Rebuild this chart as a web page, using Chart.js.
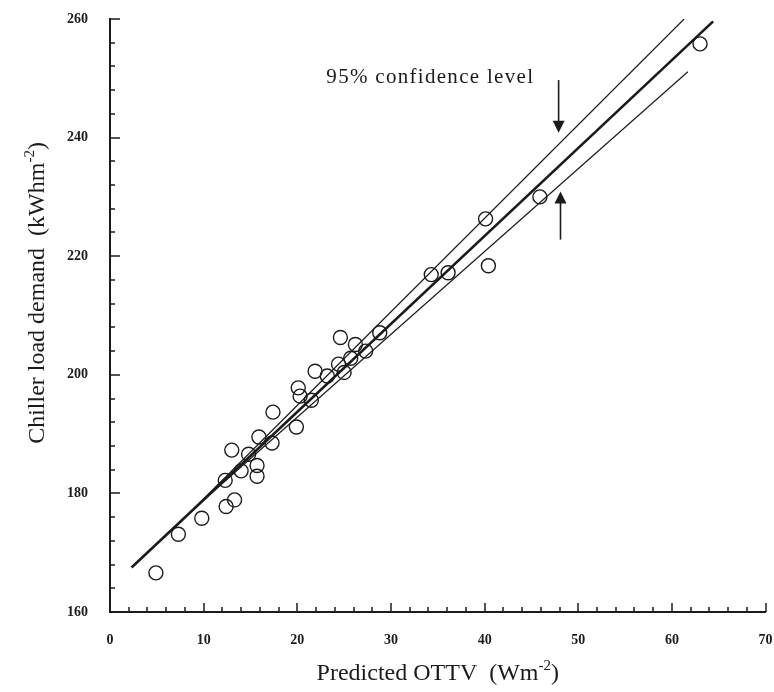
<!DOCTYPE html>
<html>
<head>
<meta charset="utf-8">
<script src="https://cdn.jsdelivr.net/npm/chart.js@4"></script>
<style>
  body { margin: 0; background: #fff; }
  canvas { display: block; }
</style>
</head>
<body>
<canvas id="grafico" width="774" height="692"></canvas>
<script>
// observed points: predicted OTTV (W/m2) vs chiller load demand (kWh/m2)
const ottv = [4.9, 7.3, 9.8, 12.4, 13.3, 12.3, 13.0, 14.0, 14.8, 15.7,
              15.7, 15.9, 17.3, 17.4, 19.9, 20.1, 20.3, 21.5, 21.9, 23.2,
              24.4, 24.6, 25.0, 25.7, 26.2, 27.3, 28.8, 34.3, 36.1, 40.1,
              40.4, 45.9, 63.0];
const demand = [166.6, 173.1, 175.8, 177.8, 178.9, 182.2, 187.3, 183.8, 186.6, 182.9,
                184.7, 189.5, 188.5, 193.7, 191.2, 197.8, 196.4, 195.7, 200.6, 199.8,
                201.8, 206.3, 200.4, 202.8, 205.1, 204.0, 207.1, 216.9, 217.2, 226.3,
                218.4, 230.0, 255.8];

// regression line and 95% confidence lines (end points)
const fitX = [2.3, 64.4];
const fitY = [167.5, 259.6];
const upperX = [9.0, 61.3];
const upperY = [177.5, 260.0];
const lowerX = [9.0, 61.7];
const lowerY = [177.5, 251.1];

// tick labels
const xTicks = [0, 10, 20, 30, 40, 50, 60, 70];
const yTicks = [160, 180, 200, 220, 240, 260];

const nota = { text: '95% confidence level', x: 23.1, y: 249.2 };
const flechas = [
  { x: 47.9, from: 249.7, to: 240.8 },
  { x: 48.1, from: 222.8, to: 230.9 }
];

function pares(xs, ys) {
  return xs.map((x, i) => ({ x: x, y: ys[i] }));
}

const ink = '#1b1b1b';
const serif = '"Liberation Serif", "Times New Roman", serif';

// writes base + superscript + tail centred on (0,0)
function textoSup(ctx, base, sup, tail, size) {
  ctx.font = size + 'px ' + serif;
  const wb = ctx.measureText(base).width;
  const wt = ctx.measureText(tail).width;
  ctx.font = Math.round(size * 0.62) + 'px ' + serif;
  const ws = ctx.measureText(sup).width;
  let x = -(wb + ws + wt) / 2;
  ctx.textBaseline = 'alphabetic';
  ctx.textAlign = 'left';
  ctx.font = size + 'px ' + serif;
  ctx.fillText(base, x, size * 0.33);
  x += wb;
  ctx.font = Math.round(size * 0.62) + 'px ' + serif;
  ctx.fillText(sup, x, size * 0.33 - size * 0.4);
  x += ws;
  ctx.font = size + 'px ' + serif;
  ctx.fillText(tail, x, size * 0.33);
}

const decor = {
  id: 'decor',
  afterDraw(chart) {
    const ctx = chart.ctx;
    const xs = chart.scales.x, ys = chart.scales.y;
    const area = chart.chartArea;
    const x0 = xs.getPixelForValue(0);
    const y0 = ys.getPixelForValue(160);
    ctx.save();

    // inward tick marks
    ctx.strokeStyle = ink;
    ctx.lineWidth = 1.5;
    ctx.beginPath();
    for (let v = 2; v <= 70; v += 2) {
      const px = Math.round(xs.getPixelForValue(v));
      const len = v % 10 === 0 ? 9 : 5;
      ctx.moveTo(px, y0);
      ctx.lineTo(px, y0 - len);
    }
    for (let v = 164; v <= 260; v += 4) {
      const py = Math.round(ys.getPixelForValue(v));
      const len = v % 20 === 0 ? 10 : 5;
      ctx.moveTo(x0, py);
      ctx.lineTo(x0 + len, py);
    }
    ctx.stroke();

    // annotation
    ctx.fillStyle = ink;
    ctx.font = '21px ' + serif;
    ctx.letterSpacing = '1.3px';
    ctx.textAlign = 'left';
    ctx.textBaseline = 'alphabetic';
    ctx.fillText(nota.text, xs.getPixelForValue(nota.x), ys.getPixelForValue(nota.y));
    ctx.letterSpacing = '0px';

    flechas.forEach(f => {
      const px = xs.getPixelForValue(f.x);
      const a = ys.getPixelForValue(f.from);
      const b = ys.getPixelForValue(f.to);
      const dir = b > a ? 1 : -1;
      ctx.lineWidth = 1.6;
      ctx.beginPath();
      ctx.moveTo(px, a);
      ctx.lineTo(px, b - dir * 10);
      ctx.stroke();
      ctx.beginPath();
      ctx.moveTo(px, b);
      ctx.lineTo(px - 6, b - dir * 12);
      ctx.lineTo(px + 6, b - dir * 12);
      ctx.closePath();
      ctx.fill();
    });

    // axis titles
    ctx.save();
    ctx.translate((area.left + area.right) / 2, area.bottom + 60);
    textoSup(ctx, 'Predicted OTTV  (Wm', '-2', ')', 24);
    ctx.restore();

    ctx.save();
    ctx.translate(area.left - 74, area.top + 274);
    ctx.rotate(-Math.PI / 2);
    textoSup(ctx, 'Chiller load demand  (kWhm', '-2', ')', 24);
    ctx.restore();

    ctx.restore();
  }
};

const ctx = document.getElementById('grafico').getContext('2d');
const grafico = new Chart(ctx, {
  type: 'scatter',
  data: {
    datasets: [
      {
        label: 'Observed',
        data: pares(ottv, demand),
        pointStyle: 'circle',
        pointRadius: 7,
        borderColor: ink,
        borderWidth: 1.4,
        backgroundColor: 'rgba(255,255,255,0)'
      },
      {
        label: 'Regression',
        data: pares(fitX, fitY),
        showLine: true,
        pointRadius: 0,
        borderColor: ink,
        borderWidth: 2.6
      },
      {
        label: 'Upper 95%',
        data: pares(upperX, upperY),
        showLine: true,
        pointRadius: 0,
        borderColor: ink,
        borderWidth: 1.2
      },
      {
        label: 'Lower 95%',
        data: pares(lowerX, lowerY),
        showLine: true,
        pointRadius: 0,
        borderColor: ink,
        borderWidth: 1.2
      }
    ]
  },
  options: {
    responsive: false,
    animation: false,
    devicePixelRatio: 1,
    layout: { padding: { left: 0, top: 19, right: 6, bottom: 0 } },
    plugins: {
      legend: { display: false },
      tooltip: { enabled: false }
    },
    scales: {
      x: {
        type: 'linear',
        min: 0,
        max: 70,
        afterBuildTicks: s => { s.ticks = xTicks.map(v => ({ value: v })); },
        afterFit: s => { s.height = 80; s.paddingLeft = 0; s.paddingRight = 0; },
        ticks: {
          color: ink,
          padding: 20,
          maxRotation: 0,
          font: { family: serif, size: 14, weight: 'bold' }
        },
        grid: { display: false, drawTicks: false },
        border: { color: ink, width: 2 }
      },
      y: {
        type: 'linear',
        min: 160,
        max: 260,
        afterBuildTicks: s => { s.ticks = yTicks.map(v => ({ value: v })); },
        afterFit: s => { s.width = 110; s.paddingTop = 0; s.paddingBottom = 0; },
        ticks: {
          color: ink,
          padding: 22,
          font: { family: serif, size: 14, weight: 'bold' }
        },
        grid: { display: false, drawTicks: false },
        border: { color: ink, width: 2 }
      }
    }
  },
  plugins: [decor]
});
</script>
</body>
</html>
